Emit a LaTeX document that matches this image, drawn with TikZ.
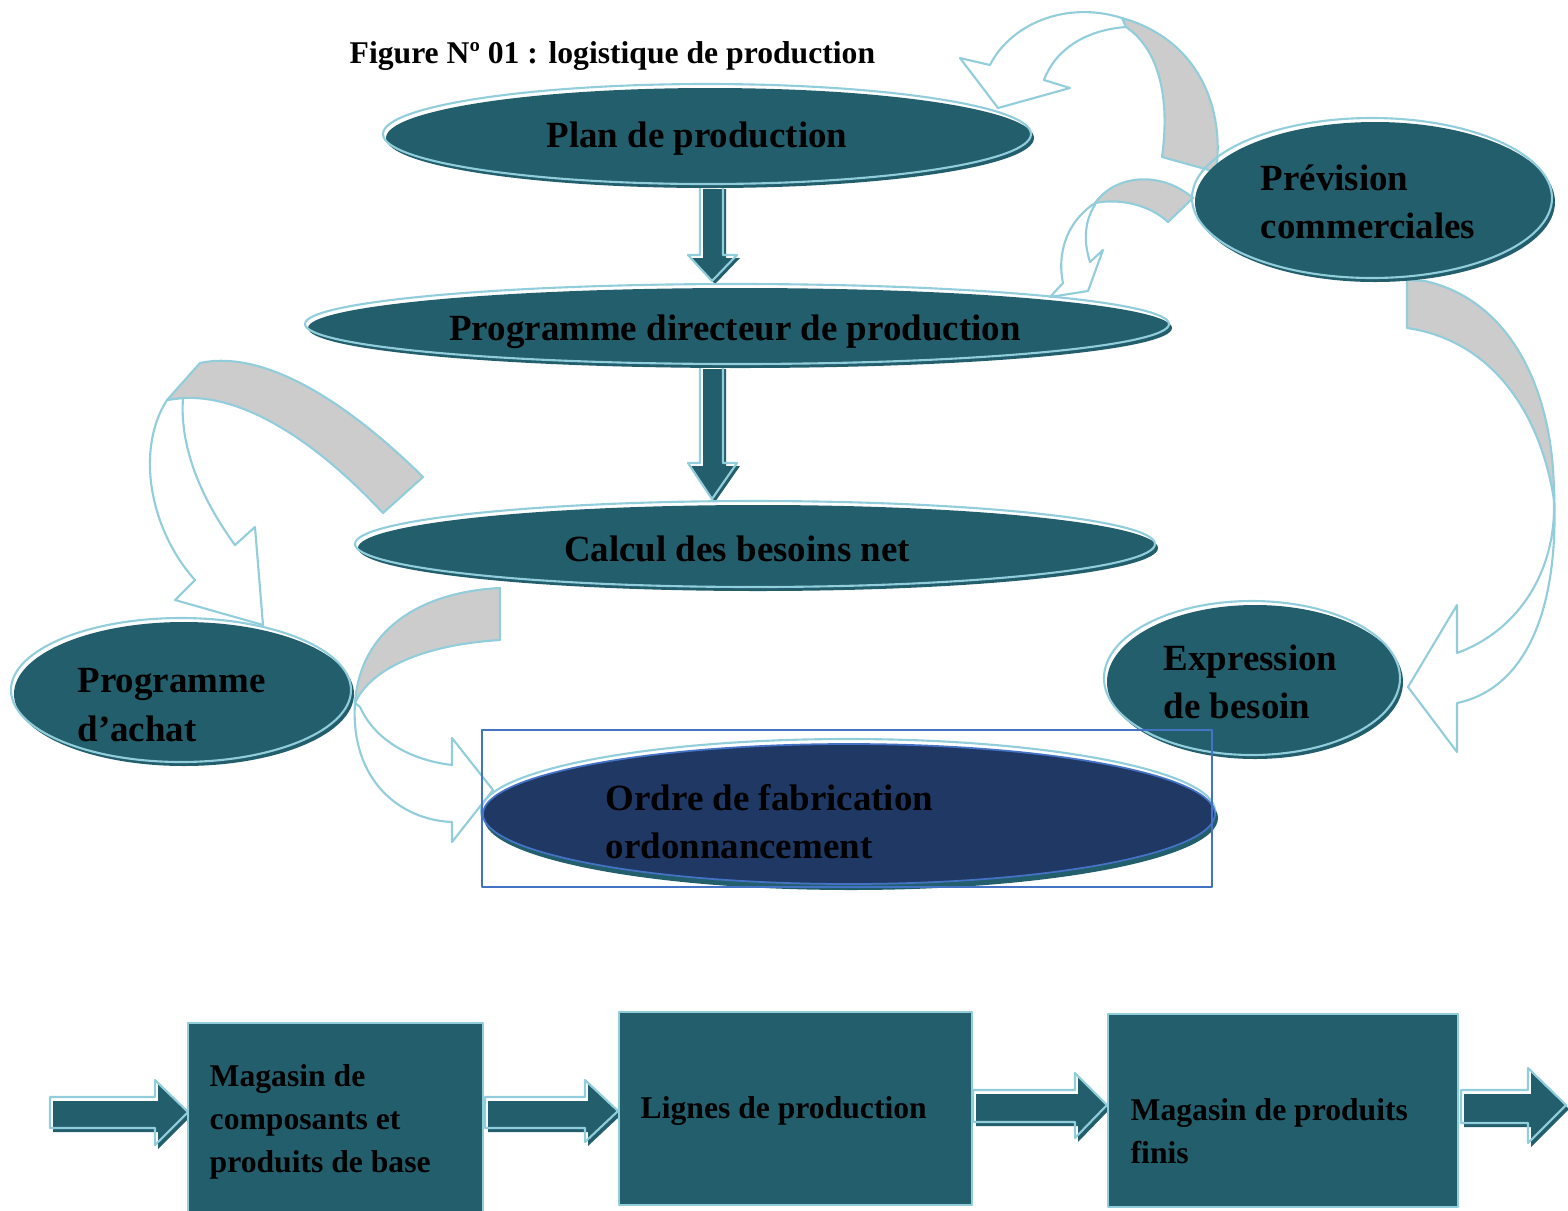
\documentclass[tikz,border=0pt]{standalone}
\usepackage{fontspec}
\setmainfont{Liberation Serif}
\definecolor{tealc}{HTML}{235E6D}
\definecolor{lb}{HTML}{92CDDC}
\definecolor{navyc}{HTML}{1F3864}
\definecolor{bluec}{HTML}{4472C4}
\definecolor{graybk}{HTML}{CCCCCC}
\begin{document}
\begin{tikzpicture}[x=0.01cm,y=-0.01cm,line join=round]
\tikzset{
  lbline/.style={draw=lb,line width=0.6pt},
  band/.style={fill=graybk,draw=lb,line width=0.6pt},
  face/.style={fill=white,draw=lb,line width=0.6pt},
  shad/.style={fill=tealc},
  lbl/.style={inner sep=0pt,anchor=west,align=left,text=black,font=\bfseries\fontsize{10.5}{13.7}\selectfont},
  blbl/.style={inner sep=0pt,anchor=west,align=left,text=black,font=\bfseries\fontsize{9}{12.2}\selectfont},
  tlbl/.style={inner sep=0pt,anchor=west,text=black,font=\bfseries\fontsize{9}{11}\selectfont}
}
\useasboundingbox (0,0) rectangle (1568,1211);

% ---------- curved arrows ----------
% top right (Prevision -> Plan)
\path[band] (1122,18) .. controls (1200,40) and (1225,110) .. (1216,172)
  -- (1162,157) .. controls (1170,100) and (1160,50) .. (1126,27) -- cycle;
\path[face] (1122,18) .. controls (1065,0) and (1010,25) .. (990,65)
  -- (960,58) -- (998,108) -- (1070,88) -- (1044,80)
  .. controls (1055,50) and (1085,30) .. (1126,27) -- cycle;
% small (Prevision -> Programme directeur)
\path[band] (1193,198) .. controls (1160,170) and (1115,175) .. (1095,203)
  .. controls (1120,198) and (1150,205) .. (1168,222) -- cycle;
\path[face] (1095,203) .. controls (1062,225) and (1058,260) .. (1063,283)
  -- (1050,297) -- (1088,291) -- (1103,250) -- (1090,262)
  .. controls (1083,240) and (1085,220) .. (1095,205) -- cycle;
% big right (Prevision -> Expression)
\path[band] (1407,328) -- (1407,280) -- (1425,281)
  .. controls (1510,300) and (1555,390) .. (1554,500)
  .. controls (1540,410) and (1490,340) .. (1407,328) -- cycle;
\path[face] (1554,490) .. controls (1560,620) and (1520,690) .. (1457,703)
  -- (1457,752) -- (1408,687) -- (1457,605) -- (1457,653)
  .. controls (1520,630) and (1555,570) .. (1554,505) -- cycle;
% top left (Calcul -> Programme d'achat)
\path[band] (423,477) .. controls (340,395) and (260,350) .. (200,363)
  -- (167,400) -- (183,398)
  .. controls (240,395) and (310,435) .. (383,513) -- cycle;
\path[face] (167,400) .. controls (135,450) and (150,530) .. (195,580)
  -- (175,600) -- (263,625) -- (255,527) -- (235,545)
  .. controls (195,490) and (180,440) .. (183,398) -- cycle;
% bottom left (Calcul -> Ordre)
\path[band] (500,640) -- (500,588)
  .. controls (420,592) and (360,630) .. (355,703)
  .. controls (370,670) and (420,645) .. (500,640) -- cycle;
\path[face] (355,703) .. controls (350,780) and (400,820) .. (452,822)
  -- (452,842) -- (493,790) -- (452,738) -- (452,765)
  .. controls (410,760) and (375,740) .. (360,707) -- cycle;

% ---------- down block arrows ----------
\fill[shad,shift={(3,3)}] (700,186) -- (723,186) -- (723,255) -- (737,255) -- (712,281) -- (688,255) -- (700,255) -- cycle;
\draw[lbline] (700,186) -- (723,186) -- (723,255) -- (737,255) -- (712,281) -- (688,255) -- (700,255) -- cycle;
\fill[shad,shift={(3,3)}] (700,366) -- (723,366) -- (723,463) -- (737,463) -- (712,499) -- (688,463) -- (700,463) -- cycle;
\draw[lbline] (700,366) -- (723,366) -- (723,463) -- (737,463) -- (712,499) -- (688,463) -- (700,463) -- cycle;

% ---------- ellipses ----------
\fill[shad] (710,138) ellipse [x radius=324, y radius=50];
\draw[lbline] (707,134) ellipse [x radius=324, y radius=50];
\fill[shad] (740,328) ellipse [x radius=432, y radius=40];
\draw[lbline] (737,324) ellipse [x radius=432, y radius=40];
\fill[shad] (758,548) ellipse [x radius=400, y radius=43];
\draw[lbline] (755,544) ellipse [x radius=400, y radius=43];
\fill[shad] (1375,202) ellipse [x radius=180, y radius=80];
\draw[lbline] (1372,198) ellipse [x radius=180, y radius=80];
\fill[shad] (184,694) ellipse [x radius=170, y radius=72];
\draw[lbline] (181,690) ellipse [x radius=170, y radius=72];
\fill[shad] (1255,682) ellipse [x radius=148, y radius=77];
\draw[lbline] (1252,678) ellipse [x radius=148, y radius=77];
% Ordre
\fill[shad] (851,818) ellipse [x radius=367, y radius=72];
\draw[lbline] (848,811) ellipse [x radius=367, y radius=72];
\filldraw[fill=navyc,draw=bluec,line width=0.5pt] (849,814) ellipse [x radius=366, y radius=70];
\draw[bluec,line width=0.5pt] (482,730) rectangle (1212,887);

% ---------- bottom chain ----------
\fill[shad,shift={(3,4)}] (50,1097) -- (155,1097) -- (155,1080) -- (188,1112) -- (155,1145) -- (155,1128) -- (50,1128) -- cycle;
\draw[lbline] (50,1097) -- (155,1097) -- (155,1080) -- (188,1112) -- (155,1145) -- (155,1128) -- (50,1128) -- cycle;
\fill[shad,shift={(3,4)}] (485,1097) -- (585,1097) -- (585,1080) -- (618,1111) -- (585,1142) -- (585,1128) -- (485,1128) -- cycle;
\draw[lbline] (485,1097) -- (585,1097) -- (585,1080) -- (618,1111) -- (585,1142) -- (585,1128) -- (485,1128) -- cycle;
\fill[shad,shift={(3,4)}] (973,1090) -- (1075,1090) -- (1075,1073) -- (1107,1105) -- (1075,1138) -- (1075,1122) -- (973,1122) -- cycle;
\draw[lbline] (973,1090) -- (1075,1090) -- (1075,1073) -- (1107,1105) -- (1075,1138) -- (1075,1122) -- (973,1122) -- cycle;
\fill[shad,shift={(3,4)}] (1461,1090) -- (1528,1090) -- (1528,1068) -- (1566,1105) -- (1528,1143) -- (1528,1123) -- (1461,1123) -- cycle;
\draw[lbline] (1461,1090) -- (1528,1090) -- (1528,1068) -- (1566,1105) -- (1528,1143) -- (1528,1123) -- (1461,1123) -- cycle;

\draw[lbline,fill=tealc] (188,1023) rectangle (483,1214);
\draw[lbline,fill=tealc] (619,1012) rectangle (972,1205);
\draw[lbline,fill=tealc] (1108,1014) rectangle (1458,1207);

% ---------- texts ----------
\node[tlbl] (title) at (349,56) {Figure Nº 01 : logistique de production};
\node[lbl,anchor=center] (t1) at (697,139) {Plan de production};
\node[lbl,anchor=center] (t2) at (735,332) {Programme directeur de production};
\node[lbl,anchor=center] (t3) at (737,549) {Calcul des besoins net};
\node[lbl] (t4) at (1260,202) {Prévision\\commerciales};
\node[lbl] (t5) at (77,705) {Programme\\d’achat};
\node[lbl] (t6) at (1163,682) {Expression\\de besoin};
\node[lbl] (t7) at (605,822) {Ordre de fabrication\\ordonnancement};
\node[blbl] (b1t) at (209,1122) {Magasin de\\composants et\\produits de base};
\node[blbl] (b2t) at (640,1111) {Lignes de production};
\node[blbl] (b3t) at (1130,1131) {Magasin de produits\\finis};
\end{tikzpicture}
\end{document}
